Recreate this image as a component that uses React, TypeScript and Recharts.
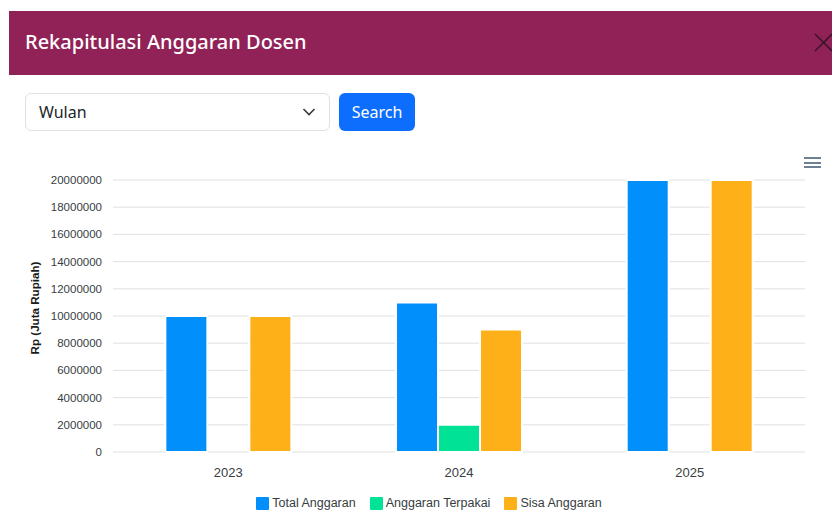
import React from 'react';
import { BarChart, Bar, XAxis, YAxis, CartesianGrid } from 'recharts';

const categories = ['2023', '2024', '2025'];
const totalAnggaran = [10000000, 11000000, 20000000];
const anggaranTerpakai = [0, 2000000, 0];
const sisaAnggaran = [10000000, 9000000, 20000000];
const yTicks = [0, 2000000, 4000000, 6000000, 8000000, 10000000, 12000000, 14000000, 16000000, 18000000, 20000000];
const seriesKeys = ['total', 'terpakai', 'sisa'];
const seriesNames = ['Total Anggaran', 'Anggaran Terpakai', 'Sisa Anggaran'];
const seriesColors = ['#008FFB', '#00E396', '#FEB019'];
const boundaryTicks = [0, 1, 2, 3];

const data = categories.map((c, i) => ({
  year: c,
  pos: i + 0.5,
  total: totalAnggaran[i],
  terpakai: anggaranTerpakai[i],
  sisa: sisaAnggaran[i],
}));

const axisFont = 'Liberation Sans, Arial, Helvetica, sans-serif';
const uiFont = '"Noto Sans", "Open Sans", sans-serif';

const YLabel = (props: any) => {
  const vb = props.viewBox || { x: 0, y: 0, width: 0, height: 0 };
  const x = vb.x + 1;
  const y = vb.y + vb.height / 2 - 8;
  return (
    <text
      x={x}
      y={y}
      transform={`rotate(-90, ${x}, ${y})`}
      textAnchor="middle"
      dominantBaseline="central"
      fontFamily={axisFont}
      fontSize={11.6}
      fontWeight={700}
      fill="#1a1a1a"
    >
      Rp (Juta Rupiah)
    </text>
  );
};

export default function App() {
  return (
    <div style={{ position: 'absolute', left: 0, top: 0, width: 832, height: 511, background: '#fff', overflow: 'hidden' }}>
      {/* Header */}
      <div style={{ position: 'absolute', left: 9, top: 11, width: 823, height: 64, background: '#912257' }}>
        <div style={{ position: 'absolute', left: 16, top: 17, fontFamily: uiFont, fontSize: 20, fontWeight: 500, color: '#fff', whiteSpace: 'nowrap', lineHeight: '28px' }}>
          Rekapitulasi Anggaran Dosen
        </div>
        <svg style={{ position: 'absolute', left: 805, top: 22 }} width={20} height={20}>
          <line x1={1} y1={1} x2={18} y2={18} stroke="#3a1528" strokeWidth={1.6} />
          <line x1={18} y1={1} x2={1} y2={18} stroke="#3a1528" strokeWidth={1.6} />
        </svg>
      </div>

      {/* Select */}
      <div style={{ position: 'absolute', left: 25, top: 93, width: 305, height: 38, boxSizing: 'border-box', border: '1px solid #dee2e6', borderRadius: 6, background: '#fff' }}>
        <div style={{ position: 'absolute', left: 13, top: 8, fontFamily: uiFont, fontSize: 16, color: '#212529', lineHeight: '20px' }}>Wulan</div>
        <svg style={{ position: 'absolute', left: 276, top: 13 }} width={14} height={10}>
          <polyline points="1.5,2 7,7.5 12.5,2" fill="none" stroke="#343a40" strokeWidth={1.6} />
        </svg>
      </div>

      {/* Button */}
      <div style={{ position: 'absolute', left: 339, top: 93, width: 76, height: 38, borderRadius: 6, background: '#0d6efd', color: '#fff', fontFamily: uiFont, fontSize: 16, display: 'flex', alignItems: 'center', justifyContent: 'center' }}>
        Search
      </div>

      {/* Menu icon */}
      <div style={{ position: 'absolute', left: 804, top: 157 }}>
        {[0, 1, 2].map((i) => (
          <div key={i} style={{ width: 17, height: 2, background: '#6e8192', marginBottom: 2.5 }} />
        ))}
      </div>

      {/* Chart */}
      <div style={{ position: 'absolute', left: 0, top: 150 }}>
        <BarChart
          width={832}
          height={361}
          data={data}
          margin={{ top: 30, right: 27, left: 33, bottom: 29 }}
          barCategoryGap="22.7%"
          barGap={0}
        >
          <CartesianGrid vertical={false} stroke="#e0e0e0" />
          <XAxis
            xAxisId="b"
            type="number"
            dataKey="pos"
            domain={[0, 3]}
            ticks={boundaryTicks}
            allowDataOverflow
            height={0}
            tick={false}
            tickSize={6}
            tickLine={{ stroke: '#e0e0e0' }}
            axisLine={{ stroke: '#e0e0e0' }}
          />
          <XAxis
            xAxisId="c"
            dataKey="year"
            height={30}
            axisLine={false}
            tickLine={false}
            tickMargin={10}
            tick={{ fontFamily: axisFont, fontSize: 13, fill: '#373d3f' }}
          />
          <YAxis
            width={80}
            domain={[0, 20000000]}
            ticks={yTicks}
            interval={0}
            axisLine={false}
            tickLine={false}
            tickSize={0}
            tickMargin={11}
            tickFormatter={(v: number) => String(v)}
            tick={{ fontFamily: axisFont, fontSize: 11.5, fill: '#373d3f' }}
            label={<YLabel />}
          />
          {seriesKeys.map((k, i) => (
            <Bar
              key={k}
              xAxisId="c"
              dataKey={k}
              name={seriesNames[i]}
              fill={seriesColors[i]}
              stroke="#fff"
              strokeWidth={2}
              isAnimationActive={false}
            />
          ))}
        </BarChart>
      </div>

      {/* Legend */}
      <div style={{ position: 'absolute', left: 0, top: 496, width: 858, height: 14, display: 'flex', justifyContent: 'center', alignItems: 'center', gap: 14, fontFamily: axisFont, fontSize: 12.5, color: '#373d3f' }}>
        {seriesNames.map((n, i) => (
          <div key={n} style={{ display: 'flex', alignItems: 'center', gap: 3 }}>
            <div style={{ width: 13, height: 13, background: seriesColors[i], borderRadius: 1 }} />
            <span style={{ whiteSpace: 'nowrap' }}>{n}</span>
          </div>
        ))}
      </div>
    </div>
  );
}
